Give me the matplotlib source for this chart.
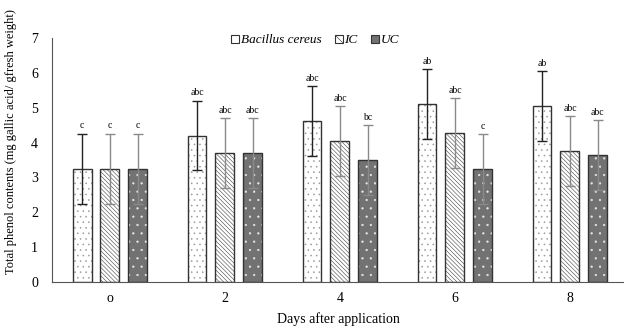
import numpy as np
import matplotlib
matplotlib.use("Agg")
import matplotlib.pyplot as plt

plt.rcParams['font.family'] = ['Liberation Serif', 'DejaVu Serif']
plt.rcParams['hatch.linewidth'] = 0.4

#data
days = ["o", "2", "4", "6", "8"]
bacillus = [3.25, 4.2, 4.62, 5.1, 5.05]
ic = [3.25, 3.7, 4.04, 4.27, 3.75]
uc = [3.25, 3.7, 3.5, 3.24, 3.64]
err_b = [1.0, 1.0, 1.0, 1.0, 1.0]
err_ic = [1.0, 1.0, 1.0, 1.0, 1.0]
err_uc = [1.0, 1.0, 1.0, 1.0, 1.0]
lab_b = ["c", "abc", "abc", "ab", "ab"]
lab_ic = ["c", "abc", "abc", "abc", "abc"]
lab_uc = ["c", "abc", "bc", "c", "abc"]

fig = plt.figure(figsize=(6.24, 3.32), dpi=100)
ax = fig.add_axes([52/624, 50/332, 572/624, 244/332])

x = np.arange(len(days))
w = 0.165
step = 0.243

series = [
	(bacillus, err_b, lab_b, "Bacillus cereus", "white", "...", "#9a9a9a", "#222222"),
	(ic, err_ic, lab_ic, "IC", "white", "\\\\\\\\\\\\\\\\", "#444444", "#8a8a8a"),
	(uc, err_uc, lab_uc, "UC", "#727272", "..", "#e8e8e8", "#8a8a8a"),
]

handles = []
for i, (vals, errs, labs, name, fc, hatch, hc, ec_err) in enumerate(series):
	xs = x + (i-1)*step
	#fill with pattern, then outline on top
	ax.bar(xs, vals, w, color=fc, hatch=hatch, edgecolor=hc, linewidth=0, zorder=2)
	ax.bar(xs, vals, w, fill=False, edgecolor="#333333", linewidth=1.0, zorder=3)
	handles.append(ax.bar([0], [0], 0, color=fc if name != "IC" else "white",
		hatch=None if name != "IC" else "\\\\\\\\", edgecolor="#333333", linewidth=0.8))
	ax.errorbar(xs, vals, yerr=errs, fmt="none", ecolor=ec_err, elinewidth=1.0,
		capsize=3.5, capthick=1.0, zorder=4)
	for xx, v, e, t in zip(xs, vals, errs, labs):
		ax.text(xx, v+e+0.1, t, ha="center", va="bottom", fontsize=7)

ax.set_ylim(0, 7)
ax.set_xlim(-0.504, 4.47)
ax.set_yticks(range(0, 8))
ax.set_xticks(x)
ax.set_xticklabels(days)
ax.tick_params(axis="y", length=0, labelsize=10, pad=10)
ax.tick_params(axis="x", length=0, labelsize=10, pad=7)
for s in ["top", "right"]:
	ax.spines[s].set_visible(False)
ax.spines["left"].set_color("#555555")
ax.spines["bottom"].set_color("#555555")

ax.set_ylabel("Total phenol contents (mg gallic acid/ gfresh weight)", fontsize=9)
ax.yaxis.set_label_coords(-0.062, 0.575)
ax.set_xlabel("Days after application", fontsize=10)
ax.xaxis.set_label_coords(0.5, -0.125)

ax.legend(handles, ["Bacillus cereus", "IC", "UC"], loc="center",
	bbox_to_anchor=(0.46, 0.99), ncol=3, frameon=False, handlelength=0.6,
	handleheight=0.6, handletextpad=0.15, columnspacing=1.0,
	prop={"style": "italic", "size": 9.5})

plt.savefig("out.png", dpi=100)
